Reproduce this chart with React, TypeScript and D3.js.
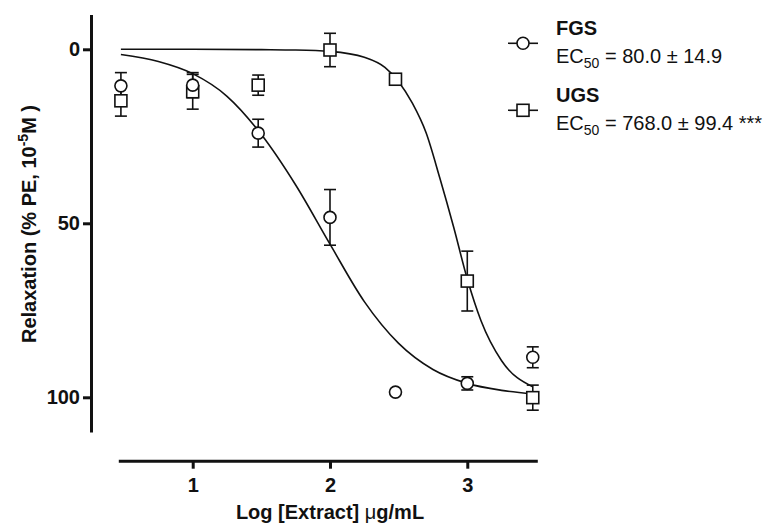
import { useEffect, useRef } from 'react';
import * as d3 from 'd3';

// log dose (µg/mL)
const doses = [0.477, 1, 1.477, 2, 2.477, 3, 3.477];

const fgsMean = [10.5, 10.3, 24.1, 48.3, 98.5, 96, 88.5];
const fgsSem = [3.8, 3.6, 4, 8, 0, 1.9, 3];
const ugsMean = [14.8, 12.2, 10.3, 0.2, 8.6, 66.6, 100.1];
const ugsSem = [4.4, 5, 2.9, 4.8, 0, 8.6, 3.6];

// fitted curves
const fgsFitX = [0.477, 0.75, 1, 1.25, 1.5, 1.75, 2, 2.25, 2.5, 2.75, 3, 3.25, 3.477];
const fgsFitY = [1.5, 3.5, 7, 13.5, 24.5, 39, 56, 72.5, 84.5, 92, 96, 98, 99];
const ugsFitX = [0.477, 1, 1.5, 1.75, 2, 2.25, 2.4, 2.5, 2.6, 2.7, 2.8, 2.9, 3, 3.1, 3.25, 3.477];
const ugsFitY = [0, 0, 0.1, 0.2, 0.6, 2.3, 5.2, 9.3, 15.5, 24, 37, 51, 66, 78, 89.5, 97];

const xTicks = [1, 2, 3];
const yTicks = [0, 50, 100];

const legendNames = ['FGS', 'UGS'];
const legendEc = ['80.0 \u00b1 14.9', '768.0 \u00b1 99.4 ***'];

const ink = '#111';
const font = "'Liberation Sans', Arial, sans-serif";

export default function App() {
	const ref = useRef<SVGSVGElement | null>(null);

	useEffect(() => {
		if (!ref.current) return;
		const svg = d3.select(ref.current);
		svg.selectAll('*').remove();

		const x = d3.scaleLinear().domain([0.458, 3.51]).range([118.3, 537.3]);
		const y = d3.scaleLinear().domain([-10, 110]).range([14.5, 432.1]);

		// y axis
		const yAxis = svg
			.append('g')
			.attr('transform', 'translate(91,0)')
			.call(d3.axisLeft(y).tickValues(yTicks).tickSize(8).tickSizeOuter(0).tickPadding(3));
		yAxis.select('.domain').attr('stroke', ink).attr('stroke-width', 3);
		yAxis.selectAll('.tick line').attr('stroke', ink).attr('stroke-width', 3);
		yAxis
			.selectAll('.tick text')
			.attr('fill', ink)
			.style('font-family', font)
			.style('font-weight', 'bold')
			.style('font-size', '20px');

		// x axis
		const xAxis = svg
			.append('g')
			.attr('transform', 'translate(0,460.7)')
			.call(d3.axisBottom(x).tickValues(xTicks).tickFormat(d3.format('d')).tickSize(8).tickSizeOuter(0).tickPadding(9));
		xAxis.select('.domain').attr('stroke', ink).attr('stroke-width', 3);
		xAxis.selectAll('.tick line').attr('stroke', ink).attr('stroke-width', 3);
		xAxis
			.selectAll('.tick text')
			.attr('fill', ink)
			.style('font-family', font)
			.style('font-weight', 'bold')
			.style('font-size', '20px');

		// axis titles
		const yTitle = svg
			.append('text')
			.attr('transform', 'translate(36,224) rotate(-90)')
			.attr('text-anchor', 'middle')
			.attr('fill', ink)
			.style('font-family', font)
			.style('font-weight', 'bold')
			.style('font-size', '20px');
		yTitle.append('tspan').text('Relaxation (% PE, 10');
		yTitle.append('tspan').attr('dy', -8).style('font-size', '14px').text('-5');
		yTitle.append('tspan').attr('dy', 8).text('M )');

		const xTitle = svg
			.append('text')
			.attr('x', 330)
			.attr('y', 519)
			.attr('text-anchor', 'middle')
			.attr('fill', ink)
			.style('font-family', font)
			.style('font-weight', 'bold')
			.style('font-size', '20px');
		xTitle.append('tspan').text('Log [Extract] ');
		xTitle.append('tspan').style('font-weight', 'normal').text('\u03bc');
		xTitle.append('tspan').text('g/mL');

		// fitted curves
		const line = d3
			.line<[number, number]>()
			.x(d => x(d[0]))
			.y(d => y(d[1]))
			.curve(d3.curveMonotoneX);

		const fits: [number[], number[]][] = [
			[fgsFitX, fgsFitY],
			[ugsFitX, ugsFitY],
		];
		fits.forEach(([xs, ys]) => {
			svg
				.append('path')
				.datum(xs.map((v, i) => [v, ys[i]] as [number, number]))
				.attr('fill', 'none')
				.attr('stroke', ink)
				.attr('stroke-width', 1.6)
				.attr('d', line);
		});

		// error bars
		const series = [
			{ mean: fgsMean, sem: fgsSem },
			{ mean: ugsMean, sem: ugsSem },
		];
		series.forEach(s => {
			const g = svg.append('g').attr('stroke', ink).attr('stroke-width', 1.6);
			doses.forEach((d, i) => {
				const e = s.sem[i];
				if (!e) return;
				const cx = x(d);
				const y0 = y(s.mean[i] - e);
				const y1 = y(s.mean[i] + e);
				g.append('line').attr('x1', cx).attr('x2', cx).attr('y1', y0).attr('y2', y1);
				g.append('line').attr('x1', cx - 6).attr('x2', cx + 6).attr('y1', y0).attr('y2', y0);
				g.append('line').attr('x1', cx - 6).attr('x2', cx + 6).attr('y1', y1).attr('y2', y1);
			});
		});

		// markers
		svg
			.append('g')
			.selectAll('rect')
			.data(doses)
			.join('rect')
			.attr('x', d => x(d) - 6)
			.attr('y', (_, i) => y(ugsMean[i]) - 6)
			.attr('width', 12)
			.attr('height', 12)
			.attr('fill', 'white')
			.attr('stroke', ink)
			.attr('stroke-width', 1.6);

		svg
			.append('g')
			.selectAll('circle')
			.data(doses)
			.join('circle')
			.attr('cx', d => x(d))
			.attr('cy', (_, i) => y(fgsMean[i]))
			.attr('r', 6)
			.attr('fill', 'white')
			.attr('stroke', ink)
			.attr('stroke-width', 1.6);

		// legend
		const legendY = [0, 67];
		legendNames.forEach((name, i) => {
			const g = svg.append('g').attr('transform', `translate(0,${legendY[i]})`);
			const sy = 43.3;
			g.append('line')
				.attr('x1', 508)
				.attr('x2', 538)
				.attr('y1', sy)
				.attr('y2', sy)
				.attr('stroke', ink)
				.attr('stroke-width', 1.6);
			if (i === 0) {
				g.append('circle').attr('cx', 523).attr('cy', sy).attr('r', 6).attr('fill', 'white').attr('stroke', ink).attr('stroke-width', 1.6);
			} else {
				g.append('rect').attr('x', 517).attr('y', sy - 6).attr('width', 12).attr('height', 12).attr('fill', 'white').attr('stroke', ink).attr('stroke-width', 1.6);
			}
			g.append('text')
				.attr('x', 556)
				.attr('y', 35)
				.attr('fill', ink)
				.style('font-family', font)
				.style('font-weight', 'bold')
				.style('font-size', '20px')
				.text(name);
			const ec = g
				.append('text')
				.attr('x', 556)
				.attr('y', 62.5)
				.attr('fill', ink)
				.style('font-family', font)
				.style('font-size', '20px');
			ec.append('tspan').text('EC');
			ec.append('tspan').attr('dy', 5).style('font-size', '14px').text('50');
			ec.append('tspan').attr('dy', -5).text(' = ' + legendEc[i]);
		});
	}, []);

	return (
		<svg
			ref={ref}
			width={771}
			height={524}
			style={{ position: 'absolute', left: 0, top: 0, background: 'white' }}
		/>
	);
}
